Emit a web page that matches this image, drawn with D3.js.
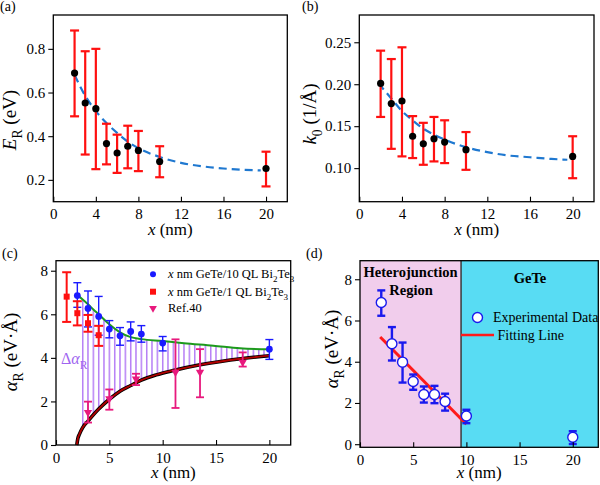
<!DOCTYPE html>
<html>
<head>
<meta charset="utf-8">
<script src="https://cdn.jsdelivr.net/npm/d3@7"></script>
<style>
body { margin: 0; background: #fff; }
</style>
</head>
<body>
<svg id="chart" width="600" height="485"></svg>
<script>
// (a) Rashba energy vs GeTe thickness
const thickness = [2, 3, 4, 5, 6, 7, 8, 10, 20];
const energyR = [0.689, 0.552, 0.526, 0.366, 0.323, 0.354, 0.335, 0.284, 0.252];
const energyHi = [0.884, 0.789, 0.800, 0.457, 0.407, 0.448, 0.424, 0.354, 0.329];
const energyLo = [0.491, 0.316, 0.249, 0.271, 0.232, 0.253, 0.240, 0.212, 0.170];
const energyFitX = [2, 3, 4, 5, 6, 7, 8, 10, 12, 14, 16, 18, 19.5];
const energyFitY = [0.68, 0.585, 0.515, 0.46, 0.415, 0.375, 0.345, 0.305, 0.278, 0.262, 0.252, 0.246, 0.243];

// (b) k0
const k0 = [0.201, 0.177, 0.180, 0.138, 0.129, 0.135, 0.131, 0.122, 0.114];
const k0Hi = [0.240, 0.230, 0.244, 0.162, 0.154, 0.161, 0.157, 0.143, 0.138];
const k0Lo = [0.161, 0.123, 0.114, 0.112, 0.104, 0.108, 0.106, 0.098, 0.088];
const k0FitX = [1.8, 3, 4, 5, 6, 7, 8, 10, 12, 14, 16, 18, 19.5];
const k0FitY = [0.201, 0.183, 0.168, 0.157, 0.147, 0.140, 0.134, 0.125, 0.119, 0.115, 0.113, 0.111, 0.110];

// (c) alpha_R, three series + two guide curves
const alpha10QL = [6.86, 6.27, 5.90, 5.32, 5.01, 5.21, 5.09, 4.68, 4.40];
const alpha10QLHi = [7.45, 7.07, 6.82, 5.71, 5.39, 5.65, 5.48, 4.98, 4.84];
const alpha10QLLo = [6.32, 5.42, 5.04, 4.92, 4.58, 4.78, 4.72, 4.32, 3.93];
const thickness1QL = [1, 2, 3, 4];
const alpha1QL = [6.81, 6.05, 5.59, 5.04];
const alpha1QLHi = [7.93, 6.60, 5.97, 5.47];
const alpha1QLLo = [5.65, 5.49, 5.20, 4.55];
const thicknessRef = [3, 5, 7.5, 11.2, 13.5, 17.5];
const alphaRef = [1.50, 2.13, 3.03, 3.34, 3.34, 3.80];
const alphaRefHi = [1.99, 2.55, 3.27, 4.85, 4.40, 4.25];
const alphaRefLo = [1.03, 1.62, 2.75, 1.70, 2.19, 3.60];
const upperCurveX = [2, 2.5, 3, 3.5, 4, 5, 6, 7, 8, 10, 12, 14.75, 17.25, 20];
const upperCurveY = [6.88, 6.68, 6.46, 6.22, 6.0, 5.54, 5.17, 4.95, 4.86, 4.77, 4.67, 4.56, 4.44, 4.39];
const lowerCurveX = [1.95, 2.05, 2.2, 2.5, 3, 4, 5, 6, 7, 8, 9.4, 11, 13.5, 17.5, 20];
const lowerCurveY = [0, 0.3, 0.5, 0.8, 1.1, 1.65, 2.1, 2.47, 2.73, 2.98, 3.22, 3.42, 3.68, 3.97, 4.10];

// (d) alpha_R with linear fit
const alphaD = [6.87, 4.87, 3.98, 3.04, 2.41, 2.41, 2.07, 1.37, 0.34];
const alphaDHi = [7.46, 5.68, 4.93, 3.38, 2.80, 2.83, 2.45, 1.67, 0.63];
const alphaDLo = [6.23, 4.06, 2.99, 2.64, 2.02, 1.99, 1.63, 1.02, 0.01];
const fitLineX = [1.9, 10];
const fitLineY = [5.2, 0.97];
const regionBoundary = 9.5;

const SERIF = "'Liberation Serif'";
const svg = d3.select('#chart');
const zip = (xs, ys) => xs.map((v, i) => [v, ys[i]]);

function makePanel (box, xDomain, yDomain) {
	const x = d3.scaleLinear().domain(xDomain).range([box.left, box.right]);
	const y = d3.scaleLinear().domain(yDomain).range([box.bottom, box.top]);
	return { g: svg.append('g'), x, y, box };
}

// rich text: parts of {t, italic, sub}
function rich (sel, parts, size) {
	let shift = 0;
	parts.forEach(p => {
		const ts = sel.append('tspan').text(p.t);
		if (p.italic) ts.attr('font-style', 'italic');
		if (p.sub) {
			const s = Math.round(size * 0.3);
			ts.attr('font-size', size * 0.72).attr('dy', s - shift);
			shift = s;
		} else if (shift) {
			ts.attr('dy', -shift);
			shift = 0;
		}
	});
	return sel;
}

function drawAxes (panel, xTicks, yTicks, yFormat, xTitleY, yTitlePos, yTitleParts, letter, letterPos) {
	const { g, x, y, box } = panel;
	const xa = g.append('g')
		.attr('transform', 'translate(0,' + box.bottom + ')')
		.call(d3.axisBottom(x).tickValues(xTicks).tickSizeInner(-5).tickSizeOuter(0).tickPadding(7));
	const ya = g.append('g')
		.attr('transform', 'translate(' + box.left + ',0)')
		.call(d3.axisLeft(y).tickValues(yTicks).tickSize(5).tickPadding(3).tickFormat(yFormat));
	[xa, ya].forEach(a => {
		a.select('.domain').remove();
		a.attr('font-size', 15).attr('font-family', 'Liberation Serif');
		a.selectAll('line').attr('stroke-width', 1.1);
	});
	g.append('rect')
		.attr('x', box.left).attr('y', box.top)
		.attr('width', box.right - box.left).attr('height', box.bottom - box.top)
		.attr('fill', 'none').attr('stroke', '#000').attr('stroke-width', 1.3);

	rich(g.append('text')
		.attr('x', (box.left + box.right) / 2).attr('y', xTitleY)
		.attr('text-anchor', 'middle').attr('font-size', 17),
		[{ t: 'x', italic: true }, { t: ' (nm)' }], 17);

	rich(g.append('text')
		.attr('transform', 'translate(' + yTitlePos[0] + ',' + yTitlePos[1] + ') rotate(-90)')
		.attr('text-anchor', 'middle').attr('font-size', 19),
		yTitleParts, 19);

	g.append('text').attr('x', letterPos[0]).attr('y', letterPos[1])
		.attr('font-size', 14).text(letter);
}

function errorBars (panel, xs, lo, hi, color, width, cap) {
	const { g, x, y } = panel;
	const bars = g.append('g').attr('stroke', color).attr('stroke-width', width);
	xs.forEach((v, i) => {
		bars.append('line').attr('x1', x(v)).attr('x2', x(v)).attr('y1', y(lo[i])).attr('y2', y(hi[i]));
		[lo[i], hi[i]].forEach(e => {
			bars.append('line').attr('x1', x(v) - cap / 2).attr('x2', x(v) + cap / 2)
				.attr('y1', y(e)).attr('y2', y(e));
		});
	});
}

function dashedFit (panel, xs, ys) {
	panel.g.append('path')
		.datum(zip(xs, ys))
		.attr('fill', 'none').attr('stroke', '#1f78d0').attr('stroke-width', 2.2)
		.attr('stroke-dasharray', '8,5')
		.attr('d', d3.line().x(d => panel.x(d[0])).y(d => panel.y(d[1])).curve(d3.curveMonotoneX));
}

function blackDots (panel, xs, ys) {
	panel.g.append('g').selectAll('circle')
		.data(zip(xs, ys)).join('circle')
		.attr('cx', d => panel.x(d[0])).attr('cy', d => panel.y(d[1]))
		.attr('r', 3.6).attr('fill', '#000');
}

// ---- (a)
const pa = makePanel({ left: 53.3, right: 287.3, top: 15, bottom: 201.7 }, [0, 22], [0.1, 0.955]);
dashedFit(pa, energyFitX, energyFitY);
errorBars(pa, thickness, energyLo, energyHi, '#ff1010', 2.2, 9);
blackDots(pa, thickness, energyR);
drawAxes(pa, [0, 4, 8, 12, 16, 20], [0.2, 0.4, 0.6, 0.8], d3.format('.1f'), 235, [16, 120],
	[{ t: 'E', italic: true }, { t: 'R', sub: true }, { t: ' (eV)' }], '(a)', [0, 11]);

// ---- (b)
const pb = makePanel({ left: 359.3, right: 594, top: 15, bottom: 201.7 }, [0, 22], [0.06, 0.2825]);
dashedFit(pb, k0FitX, k0FitY);
errorBars(pb, thickness, k0Lo, k0Hi, '#ff1010', 2.2, 9);
blackDots(pb, thickness, k0);
drawAxes(pb, [0, 4, 8, 12, 16, 20], [0.10, 0.15, 0.20, 0.25], d3.format('.2f'), 235, [316, 114],
	[{ t: 'k', italic: true }, { t: '0', sub: true }, { t: ' (1/Å)' }], '(b)', [302, 11]);

// ---- (c)
const pc = makePanel({ left: 56, right: 290.7, top: 260.7, bottom: 445 }, [0, 22], [0, 8.46]);
{
	const { g, x, y, box } = pc;
	const step = x(0.5) - x(0);
	const defs = svg.append('defs');
	defs.append('pattern').attr('id', 'hatch').attr('patternUnits', 'userSpaceOnUse')
		.attr('x', x(2.5) - 0.75).attr('y', 0).attr('width', step).attr('height', 485)
		.append('line').attr('x1', 0.75).attr('x2', 0.75).attr('y1', 0).attr('y2', 485)
		.attr('stroke', '#b47cf5').attr('stroke-width', 1.5);

	const below = (xs, ys) => d3.area().x(d => x(d[0])).y0(box.bottom).y1(d => y(d[1]))
		.curve(d3.curveMonotoneX)(zip(xs, ys));
	const mask = defs.append('mask').attr('id', 'gapMask');
	mask.append('rect').attr('width', 600).attr('height', 485).attr('fill', '#000');
	mask.append('path').attr('d', below(upperCurveX, upperCurveY)).attr('fill', '#fff');
	mask.append('path').attr('d', below(lowerCurveX, lowerCurveY)).attr('fill', '#000');

	g.append('rect')
		.attr('x', x(2.5) - 1).attr('width', x(19.5) - x(2.5) + 2)
		.attr('y', box.top).attr('height', box.bottom - box.top)
		.attr('fill', 'url(#hatch)').attr('mask', 'url(#gapMask)');

	const line = d3.line().x(d => x(d[0])).y(d => y(d[1])).curve(d3.curveMonotoneX);
	g.append('path').datum(zip(upperCurveX, upperCurveY)).attr('d', line)
		.attr('fill', 'none').attr('stroke', '#1d9a1d').attr('stroke-width', 2);
	g.append('path').datum(zip(lowerCurveX, lowerCurveY)).attr('d', line)
		.attr('fill', 'none').attr('stroke', '#000').attr('stroke-width', 3.6);
	g.append('path').datum(zip(lowerCurveX, lowerCurveY)).attr('d', line)
		.attr('fill', 'none').attr('stroke', '#b00000').attr('stroke-width', 1.8);

	errorBars(pc, thickness, alpha10QLLo, alpha10QLHi, '#1a1aff', 1.4, 8);
	errorBars(pc, thicknessRef, alphaRefLo, alphaRefHi, '#e8197d', 1.8, 8);
	errorBars(pc, thickness1QL, alpha1QLLo, alpha1QLHi, '#ff1010', 2, 9);

	const tri = d3.symbol().type(d3.symbolTriangle).size(30);
	g.append('g').selectAll('path').data(zip(thicknessRef, alphaRef)).join('path')
		.attr('d', tri).attr('fill', '#e8197d')
		.attr('transform', d => 'translate(' + x(d[0]) + ',' + y(d[1]) + ') rotate(180)');
	g.append('g').selectAll('circle').data(zip(thickness, alpha10QL)).join('circle')
		.attr('cx', d => x(d[0])).attr('cy', d => y(d[1])).attr('r', 3.4).attr('fill', '#1a1aff');
	g.append('g').selectAll('rect').data(zip(thickness1QL, alpha1QL)).join('rect')
		.attr('x', d => x(d[0]) - 3).attr('y', d => y(d[1]) - 3)
		.attr('width', 6).attr('height', 6).attr('fill', '#ff1010');

	rich(g.append('text').attr('x', 61).attr('y', 364).attr('font-size', 16).attr('fill', '#a064f0'),
		[{ t: 'Δ' }, { t: 'α', italic: true }, { t: 'R', sub: true }], 16);

	// legend
	const legend = g.append('g').attr('font-size', 12.5);
	const rows = [
		{ label: '10', y: 274.3 },
		{ label: '1', y: 291.7 },
		{ label: null, y: 308.3 }
	];
	legend.append('circle').attr('cx', 153).attr('cy', rows[0].y).attr('r', 3).attr('fill', '#1a1aff');
	legend.append('rect').attr('x', 150).attr('y', rows[1].y - 3).attr('width', 6).attr('height', 6).attr('fill', '#ff1010');
	legend.append('path').attr('d', d3.symbol().type(d3.symbolTriangle).size(26))
		.attr('fill', '#e8197d').attr('transform', 'translate(153,' + rows[2].y + ') rotate(180)');
	rows.forEach(r => {
		const t = legend.append('text').attr('x', 168).attr('y', r.y + 4);
		if (r.label) {
			rich(t, [{ t: 'x', italic: true }, { t: ' nm GeTe/' + r.label + ' QL Bi' }, { t: '2', sub: true },
				{ t: 'Te' }, { t: '3', sub: true }], 12.5);
		} else {
			t.text('Ref.40');
		}
	});
}
drawAxes(pc, [0, 5, 10, 15, 20], [0, 2, 4, 6, 8], d3.format('d'), 478, [17, 352],
	[{ t: 'α', italic: true }, { t: 'R', sub: true }, { t: ' (eV·Å)' }], '(c)', [2, 258]);

// ---- (d)
const pd = makePanel({ left: 360, right: 598.3, top: 260.7, bottom: 447.3 }, [0, 22.4], [-0.15, 8.9]);
{
	const { g, x, y, box } = pd;
	g.append('rect').attr('x', box.left).attr('y', box.top)
		.attr('width', x(regionBoundary) - box.left).attr('height', box.bottom - box.top).attr('fill', '#f1cdec');
	g.append('rect').attr('x', x(regionBoundary)).attr('y', box.top)
		.attr('width', box.right - x(regionBoundary)).attr('height', box.bottom - box.top).attr('fill', '#58dcf3');
	g.append('line').attr('x1', x(regionBoundary)).attr('x2', x(regionBoundary))
		.attr('y1', box.top).attr('y2', box.bottom).attr('stroke', '#3a3a3a').attr('stroke-width', 1.5);

	g.append('path').datum(zip(fitLineX, fitLineY))
		.attr('d', d3.line().x(d => x(d[0])).y(d => y(d[1])))
		.attr('stroke', '#ff1a1a').attr('stroke-width', 3).attr('fill', 'none');

	errorBars(pd, thickness, alphaDLo, alphaDHi, '#1a1aee', 2.4, 8);
	g.append('g').selectAll('circle').data(zip(thickness, alphaD)).join('circle')
		.attr('cx', d => x(d[0])).attr('cy', d => y(d[1])).attr('r', 5)
		.attr('fill', '#fff').attr('stroke', '#1a1aee').attr('stroke-width', 1.4);

	const labels = g.append('g').attr('font-size', 14.5).attr('font-weight', 'bold').attr('text-anchor', 'middle');
	labels.append('text').attr('x', 410.5).attr('y', 277).text('Heterojunction');
	labels.append('text').attr('x', 411).attr('y', 294.5).text('Region');
	labels.append('text').attr('x', 530).attr('y', 283).text('GeTe');

	g.append('circle').attr('cx', 477.5).attr('cy', 317.5).attr('r', 5)
		.attr('fill', '#fff').attr('stroke', '#1a1aee').attr('stroke-width', 1.4);
	g.append('text').attr('x', 493).attr('y', 322).attr('font-size', 14).text('Experimental Data');
	g.append('line').attr('x1', 461).attr('x2', 494).attr('y1', 335).attr('y2', 335)
		.attr('stroke', '#ff1a1a').attr('stroke-width', 2.6);
	g.append('text').attr('x', 497.5).attr('y', 340).attr('font-size', 14).text('Fitting Line');
}
drawAxes(pd, [0, 5, 10, 15, 20], [0, 2, 4, 6, 8], d3.format('d'), 478, [338, 349],
	[{ t: 'α', italic: true }, { t: 'R', sub: true }, { t: ' (eV·Å)' }], '(d)', [306, 258]);

// serif everywhere, set inline on every text and tspan
svg.selectAll('text, tspan').style('font-family', SERIF);
</script>
</body>
</html>
